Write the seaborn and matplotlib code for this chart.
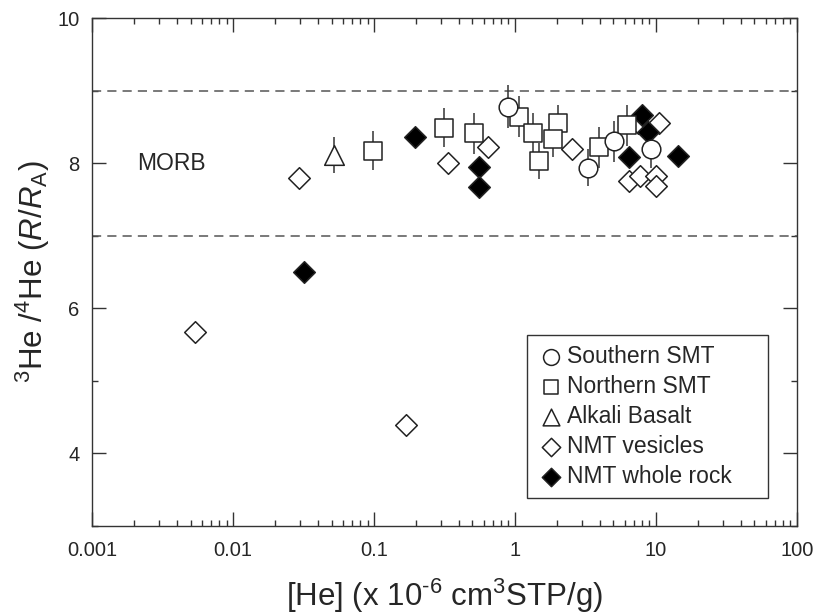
import matplotlib
matplotlib.use("Agg")
import matplotlib.pyplot as plt
import numpy as np
import pandas as pd
import seaborn as sns
from matplotlib.ticker import LogLocator, NullFormatter, MultipleLocator


# %% data
south_he = [0.90, 3.31, 5.05, 9.27]
south_r = [8.78, 7.94, 8.30, 8.19]
south_err = [0.30, 0.25, 0.28, 0.25]

north_he = [0.098, 0.316, 0.509, 1.06, 1.34, 1.49, 2.03, 1.87, 3.95, 6.24]
north_r = [8.17, 8.49, 8.41, 8.64, 8.42, 8.03, 8.55, 8.33, 8.22, 8.52]
north_err = [0.27, 0.27, 0.28, 0.28, 0.27, 0.25, 0.25, 0.25, 0.28, 0.28]

alkali_he = [0.052]
alkali_r = [8.11]
alkali_err = [0.25]

vesicle_he = [0.0054, 0.0295, 0.168, 0.333, 0.64, 2.52, 7.46, 10.5, 6.45, 7.67, 10.05, 10.05]
vesicle_r = [5.68, 7.79, 4.39, 8.00, 8.22, 8.19, 8.55, 8.55, 7.76, 7.82, 7.82, 7.68]

whole_he = [0.032, 0.197, 0.559, 0.559, 6.41, 8.0, 8.78, 14.3]
whole_r = [6.50, 8.36, 7.95, 7.665, 8.09, 8.67, 8.43, 8.10]

morb_band = [7.0, 9.0]

# %% style
sns.set_style("ticks")
plt.rcParams["font.family"] = ["Liberation Sans", "DejaVu Sans"]
plt.rcParams["mathtext.fontset"] = "custom"
plt.rcParams["mathtext.rm"] = "Liberation Sans"
plt.rcParams["mathtext.it"] = "Liberation Sans:italic"
plt.rcParams["axes.edgecolor"] = "#333333"

fig = plt.figure(figsize=(8.14, 6.15), dpi=100)
ax = fig.add_axes([0.113, 0.1447, 0.866, 0.826])

# MORB range
for y in morb_band:
    ax.axhline(y, color="#555555", lw=1.1, ls=(0, (6, 4)), zorder=1)

# error bars
for xs, ys, es in [(south_he, south_r, south_err),
                   (north_he, north_r, north_err),
                   (alkali_he, alkali_r, alkali_err)]:
    ax.errorbar(xs, ys, yerr=es, fmt="none", ecolor="#333333",
                elinewidth=1.1, capsize=0, zorder=2)

groups = [
    ("NMT vesicles", vesicle_he, vesicle_r, "D", "white", 121),
    ("NMT whole rock", whole_he, whole_r, "D", "black", 121),
    ("Northern SMT", north_he, north_r, "s", "white", 150),
    ("Alkali Basalt", alkali_he, alkali_r, "^", "white", 200),
    ("Southern SMT", south_he, south_r, "o", "white", 180),
]
for name, xs, ys, mk, fc, sz in groups:
    df = pd.DataFrame({"he": xs, "r": ys})
    sns.scatterplot(data=df, x="he", y="r", marker=mk, color=fc,
                    edgecolor="#222222", linewidth=1.1, s=sz,
                    label=name, ax=ax, zorder=3)

ax.text(0.0021, 8.0, "MORB", fontsize=16.5, va="center", ha="left")

ax.set_xscale("log")
ax.set_xlim(0.001, 100)
ax.set_ylim(3, 10)
ax.xaxis.set_minor_locator(LogLocator(base=10, subs=np.arange(2, 10), numticks=20))
ax.xaxis.set_minor_formatter(NullFormatter())
ax.set_xticks([0.001, 0.01, 0.1, 1, 10, 100])
ax.set_xticklabels(["0.001", "0.01", "0.1", "1", "10", "100"])
ax.yaxis.set_major_locator(MultipleLocator(2))
ax.yaxis.set_minor_locator(MultipleLocator(1))

ax.tick_params(which="both", direction="in", top=True, right=True,
               color="#333333", labelsize=14.5)
ax.tick_params(which="major", length=10, width=1)
ax.tick_params(which="minor", length=4, width=1)
ax.tick_params(axis="x", pad=11)
ax.tick_params(axis="y", pad=9)
for sp in ax.spines.values():
    sp.set_linewidth(1)

ax.set_xlabel("[He] (x 10$^{\u20106}$ cm$^{3}$STP/g)", fontsize=22.5, labelpad=12)
ax.set_ylabel(r"$^{3}$He /$^{4}$He ($R$/$R_{\mathrm{A}}$)", fontsize=22.5, labelpad=4)

# legend in reference order
handles, labels = ax.get_legend_handles_labels()
order = ["Southern SMT", "Northern SMT", "Alkali Basalt", "NMT vesicles", "NMT whole rock"]
hmap = dict(zip(labels, handles))
leg = ax.legend([hmap[k] for k in order], order, loc="lower left",
                bbox_to_anchor=(0.617, 0.055, 0.342, 0.3), mode="expand",
                fontsize=16.5, frameon=True,
                fancybox=False, edgecolor="#333333", framealpha=1,
                handletextpad=0.1, labelspacing=0.3, borderpad=0.45,
                markerscale=0.85, handlelength=1.2, borderaxespad=0)
leg.get_frame().set_linewidth(1)

fig.savefig("out.png", dpi=100)
